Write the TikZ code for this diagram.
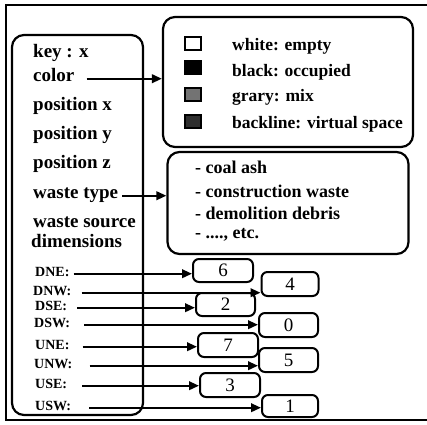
\documentclass[tikz,border=0pt]{standalone}
\usepackage{fontspec}
\setmainfont{Liberation Serif}
\usetikzlibrary{arrows.meta}
\begin{document}
\begin{tikzpicture}[x=1pt,y=-1pt,
  frameline/.style={line width=2pt},
  roundbox/.style={draw,line width=2.2pt,rounded corners=12pt,inner sep=0pt},
  numbox/.style={draw,line width=2pt,rounded corners=6pt,inner sep=0pt,
    font=\fontsize{19}{19}\selectfont},
  keytext/.style={anchor=base west,inner sep=0pt,
    font=\bfseries\fontsize{19}{22}\selectfont},
  legtext/.style={anchor=base west,inner sep=0pt,
    font=\bfseries\fontsize{17.5}{20}\selectfont},
  listtext/.style={anchor=base west,inner sep=0pt,
    font=\bfseries\fontsize{18}{20}\selectfont},
  dirlab/.style={anchor=base west,inner sep=0pt,
    font=\bfseries\fontsize{14}{16}\selectfont},
  swatch/.style={draw,line width=1.6pt},
  link/.style={line width=2.2pt,-{Triangle[length=10pt,width=8.5pt]}}
]
\useasboundingbox (0,0) rectangle (427,424);

% outer frame (open on the right)
\draw[frameline] (427,5) -- (5.5,5) -- (5.5,420) -- (427,420);

% record box on the left
\node[roundbox,minimum width=131pt,minimum height=380pt] (keys) at (77.5,225) {};

% colour legend box and waste type box
\node[roundbox,minimum width=250pt,minimum height=130pt] (legend) at (288,82) {};
\node[roundbox,minimum width=241pt,minimum height=102pt] (wastes) at (288,203) {};

% record fields
\node[keytext] (kkey)  at (33,57)  {key : x};
\node[keytext] (kcol)  at (33,81)  {color};
\node[keytext] (kposx) at (33,110) {position x};
\node[keytext] (kposy) at (33,139) {position y};
\node[keytext] (kposz) at (33,168) {position z};
\node[keytext] (kwt)   at (33,198) {waste type};
\node[keytext] (kws)   at (33,227) {waste source};
\node[keytext] (kdim)  at (31,247) {dimensions};

% legend swatches and texts
\draw[swatch] (185,37) rectangle (201,50);
\draw[swatch,fill=black] (185,61) rectangle (201,74);
\draw[swatch,fill=black!55] (185,88) rectangle (201,101);
\draw[swatch,fill=black!82] (185,115) rectangle (201,128);
\node[legtext] (lwhite) at (232,50)  {white: empty};
\node[legtext] (lblack) at (232,76)  {black: occupied};
\node[legtext] (lgray)  at (232,101) {grary: mix};
\node[legtext] (lback)  at (232,128) {backline: virtual space};

% waste type list
\node[listtext] (w1) at (195,173) {- coal ash};
\node[listtext] (w2) at (195,197) {- construction waste};
\node[listtext] (w3) at (195,219) {- demolition debris};
\node[listtext] (w4) at (195,238) {- ...., etc.};

% field arrows
\draw[link,shorten <=12pt] (kcol.mid east) -- (kcol.mid east -| legend.west);
\draw[link,shorten <=4pt] (kwt.mid east) -- (kwt.mid east -| wastes.west);

% neighbour index boxes
\node[numbox,minimum width=60pt,minimum height=23pt] (b6) at (223,270.5) {6};
\node[numbox,minimum width=57pt,minimum height=24pt] (b4) at (290,284)   {4};
\node[numbox,minimum width=59pt,minimum height=23pt] (b2) at (225.5,304.5) {2};
\node[numbox,minimum width=59pt,minimum height=24pt] (b0) at (288.5,325) {0};
\node[numbox,minimum width=60pt,minimum height=24pt] (b7) at (228,345)   {7};
\node[numbox,minimum width=59pt,minimum height=24pt] (b5) at (288.5,360) {5};
\node[numbox,minimum width=60pt,minimum height=24pt] (b3) at (230,385)   {3};
\node[numbox,minimum width=56pt,minimum height=22pt] (b1) at (290,406)   {1};

% direction labels and their arrows
\foreach \nm/\lab/\by/\lx/\gap/\tg in {
    dne/DNE:/276/35/4/b6, dnw/DNW:/295/33/10/b4,
    dse/DSE:/310/35/10/b2, dsw/DSW:/327/34/14/b0,
    une/UNE:/349/35/13/b7, unw/UNW:/368/34/17/b5,
    use/USE:/388/35/15/b3, usw/USW:/410/35/18/b1} {
  \node[dirlab] (\nm) at (\lx,\by) {\lab};
  \draw[link,shorten <=\gap pt] (\nm.mid east) -- (\nm.mid east -| \tg.west);
}
\end{tikzpicture}
\end{document}
